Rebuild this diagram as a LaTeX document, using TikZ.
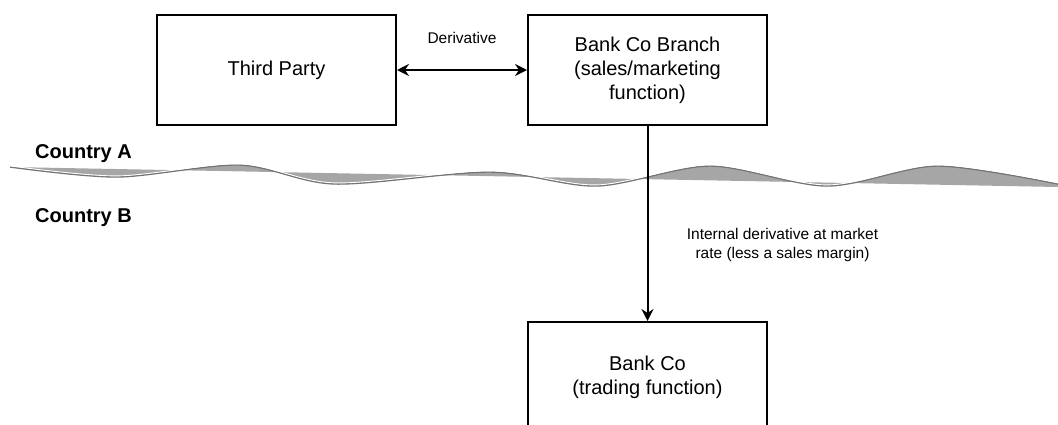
\documentclass[tikz,border=0pt]{standalone}
\usepackage{fontspec}
\setmainfont{Liberation Sans}
\usetikzlibrary{arrows.meta}

\tikzset{
  box/.style={draw,line width=2pt,minimum width=239pt,minimum height=110pt,inner sep=0pt,align=center,font=\fontsize{20}{24}\selectfont},
  link/.style={line width=2pt},
  lbl/.style={align=center,font=\fontsize{15.5}{19}\selectfont},
  country/.style={anchor=base west,inner sep=0pt,font=\fontsize{20}{24}\selectfont\bfseries}
}

\begin{document}
\begin{tikzpicture}[x=1pt,y=-1pt,>={Stealth[length=12pt,width=12pt,inset=4pt]}]
\useasboundingbox (0,0) rectangle (1058,424);

% border between the two countries
\fill[gray!70] plot[smooth] coordinates {(10,167) (117,177) (240,165) (335,184) (490,172) (597,186) (710,166) (827,186) (937,166) (1058,184)} -- (1058,187) -- cycle;
\draw[black!55,line width=1.4pt] plot[smooth] coordinates {(10,167) (117,177) (240,165) (335,184) (490,172) (597,186) (710,166) (827,186) (937,166) (1058,184)};
\draw[white,line width=0.9pt,yshift=1.1pt] plot[smooth] coordinates {(10,167) (117,177) (240,165) (335,184) (490,172) (597,186) (710,166) (827,186) (937,166) (1058,184)};

\node[country] (ca) at (35,158) {Country A};
\node[country] (cb) at (35,222) {Country B};

\node[box] (third) at (276.5,70) {Third Party};
\node[box] (branch) at (647.5,70) {Bank Co Branch\\(sales/marketing\\function)};
\node[box] (bankco) at (647.5,377) {Bank Co\\(trading function)};

\draw[link,<->] (third) -- (branch) node[lbl,midway,yshift=32pt] {Derivative};
\draw[link,->] (branch) -- (bankco) node[lbl,midway,xshift=135pt,yshift=-21pt] {Internal derivative at market\\rate (less a sales margin)};

\end{tikzpicture}
\end{document}
